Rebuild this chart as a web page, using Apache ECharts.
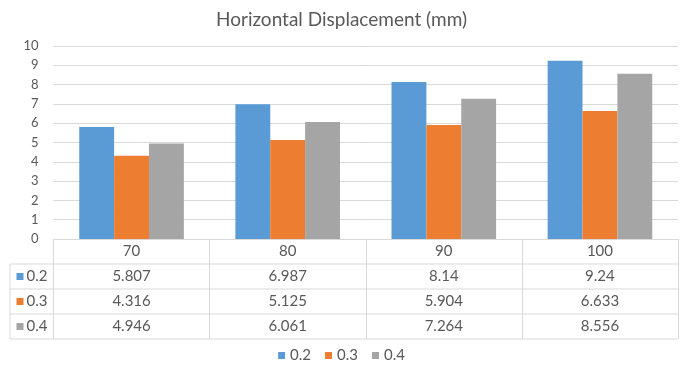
<!DOCTYPE html>
<html>
<head>
<meta charset="utf-8">
<script src="https://cdn.jsdelivr.net/npm/echarts@6/dist/echarts.min.js"></script>
<style>
  html, body { margin: 0; padding: 0; background: #fff; }
  #chart { width: 683px; height: 369px; }
</style>
</head>
<body>
<div id="chart"></div>
<script>
// Chart data
const categories = ['70', '80', '90', '100'];
const seriesNames = ['0.2', '0.3', '0.4'];
const values02 = [5.807, 6.987, 8.14, 9.24];
const values03 = [4.316, 5.125, 5.904, 6.633];
const values04 = [4.946, 6.061, 7.264, 8.556];
const yTicks = [0, 1, 2, 3, 4, 5, 6, 7, 8, 9, 10];

const seriesValues = [values02, values03, values04];
const colors = ['#5B9BD5', '#ED7D31', '#A5A5A5'];
const textColor = '#595959';
const lineColor = '#D9D9D9';
const font = 'Lato, "Open Sans", sans-serif';

const gridLeft = 53.5, gridRight = 5, gridTop = 46, gridBottom = 130;
const tableLeft = 10;
const rowH = 25;

const chart = echarts.init(document.getElementById('chart'), null, { renderer: 'canvas' });

const option = {
  animation: false,
  backgroundColor: '#fff',
  color: colors,
  textStyle: { fontFamily: font, color: textColor },
  title: {
    text: 'Horizontal Displacement (mm)',
    left: 'center',
    top: 5,
    textStyle: { fontFamily: font, fontSize: 19, fontWeight: 'normal', color: textColor }
  },
  legend: {
    bottom: 1,
    left: 'center',
    icon: 'rect',
    itemWidth: 7,
    itemHeight: 7,
    itemGap: 14,
    textStyle: { fontFamily: font, fontSize: 15, color: textColor },
    data: seriesNames
  },
  grid: { left: gridLeft, right: gridRight, top: gridTop, bottom: gridBottom, containLabel: false },
  xAxis: {
    type: 'category',
    data: categories,
    axisLine: { show: true, lineStyle: { color: lineColor } },
    axisTick: { show: true, length: rowH * 4, lineStyle: { color: lineColor } },
    axisLabel: { margin: 5, fontFamily: font, fontSize: 15, color: textColor }
  },
  yAxis: {
    type: 'value',
    min: yTicks[0],
    max: yTicks[yTicks.length - 1],
    interval: 1,
    axisLine: { show: false },
    axisTick: { show: false },
    axisLabel: { margin: 15, fontFamily: font, fontSize: 13, color: textColor },
    splitLine: { lineStyle: { color: lineColor } }
  },
  series: seriesNames.map((name, i) => ({
    name: name,
    type: 'bar',
    data: seriesValues[i],
    barGap: '0%',
    barCategoryGap: '33%',
    itemStyle: { color: colors[i] }
  }))
};

chart.setOption(option);

// Data table beneath the plot
function buildTable() {
  const axisY = chart.convertToPixel({ yAxisIndex: 0 }, 0);
  const x0 = gridLeft;
  const x1 = 683 - gridRight;
  const els = [];
  const line = (xa, ya, xb, yb) => els.push({
    type: 'line',
    shape: { x1: xa, y1: ya, x2: xb, y2: yb },
    style: { stroke: lineColor, lineWidth: 1 },
    silent: true
  });
  // left border of header cell
  line(x0, axisY, x0, axisY + rowH * 4);
  // horizontal row lines
  for (let r = 1; r <= 4; r++) {
    line(tableLeft, axisY + rowH * r, x1, axisY + rowH * r);
  }
  // row header column left border
  line(tableLeft, axisY + rowH, tableLeft, axisY + rowH * 4);

  seriesNames.forEach((name, i) => {
    const cy = axisY + rowH * (i + 1) + rowH / 2;
    els.push({
      type: 'rect',
      shape: { x: 16.5, y: cy - 3.5, width: 7, height: 7 },
      style: { fill: colors[i] },
      silent: true
    });
    els.push({
      type: 'text',
      x: 26.5, y: cy,
      style: { text: name, fill: textColor, font: '15px ' + font, textAlign: 'left', textVerticalAlign: 'middle' },
      silent: true
    });
    categories.forEach((c, j) => {
      const cx = chart.convertToPixel({ xAxisIndex: 0 }, c);
      els.push({
        type: 'text',
        x: cx, y: cy,
        style: { text: String(seriesValues[i][j]), fill: textColor, font: '15px ' + font, textAlign: 'center', textVerticalAlign: 'middle' },
        silent: true
      });
    });
  });
  chart.setOption({ graphic: { elements: els } });
}
buildTable();
</script>
</body>
</html>
